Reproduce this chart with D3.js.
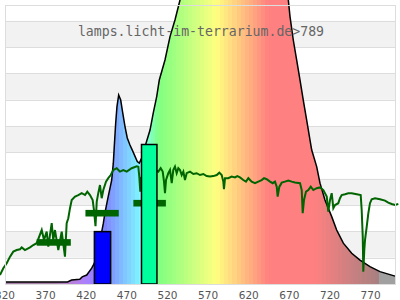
<!DOCTYPE html>
<html>
<head>
<meta charset="utf-8">
<script src="https://cdn.jsdelivr.net/npm/d3@7"></script>
<style>
  body { margin: 0; background: #fff; }
  svg { display: block; }
</style>
</head>
<body>
<div id="chart"></div>
<script>
const width = 400;
const height = 300;
const plotLeft = 5, plotRight = 395, plotTop = 5, plotBottom = 284;

const title = "lamps.licht-im-terrarium.de>789";
const xTicks = [320, 370, 420, 470, 520, 570, 620, 670, 720, 770];
const gridValues = [0, 10, 20, 30, 40, 50, 60, 70, 80, 90, 100];
const shadedBands = [[10, 20], [30, 40], [50, 60], [70, 80], [90, 100]];

// lamp spectrum [nm, relative value] (peak runs off the top)
const lampSpectrum = [
  [320, 0.8], [397, 0.8], [402, 1.5], [412, 1.8], [415, 2.7], [420.6, 3.4],
  [426.7, 6.0], [430, 7.9], [439, 19.8], [441, 23], [443, 27], [447, 33.2],
  [451.3, 39.5], [453.3, 45.9], [454.5, 52.2], [456.2, 61], [457.8, 67.4],
  [459.9, 71.8], [462.4, 69.9], [464.9, 65], [467.7, 59.8], [470.5, 55.5],
  [473.8, 52.8], [477.5, 50.3], [482.8, 46.5], [485.3, 45.9], [488.2, 47.8],
  [494.4, 54.3], [498.5, 58.5], [502.5, 65], [506.7, 71.2], [509.9, 77.5],
  [516.9, 85.1], [523.1, 94], [529.2, 100.3], [535.4, 107.9], [545, 118],
  [580, 138], [610, 142], [640, 130], [660, 114], [668.7, 107.9],
  [670.8, 101.6], [674.8, 92.7], [679, 85.1], [683.1, 77.5], [687.1, 69.9],
  [691.3, 62.3], [695.4, 54.7], [697.5, 50.9], [703.6, 44.6], [707.7, 38.3],
  [713.8, 31.9], [722.1, 25.6], [728.2, 20.5], [736.4, 15.5], [746.7, 11.7],
  [756.9, 9.1], [769.2, 6.6], [781.5, 4.7], [800, 3.0]
];

// reference daylight curve [nm, relative value]
const daylight = [
  [313.8, 3.4], [317.9, 6.0], [322.1, 7.9], [326.2, 10.4], [330.2, 12.3],
  [334.4, 12.9], [338.5, 13.2], [340.6, 13.9], [344.6, 12.9], [350.8, 13.9],
  [354.8, 14.8], [359, 15.5], [365.2, 20.5], [368, 16.7], [371.3, 19.9],
  [373.3, 14.2], [377.5, 23.1], [379.4, 16.7], [381.5, 20.5], [385.6, 12.9],
  [389.8, 19.9], [393.8, 10.4], [395.9, 23.1], [397.9, 25.0], [400, 28.8],
  [402.1, 31.9], [406.2, 33.2], [410.2, 33.8], [414.4, 34.5], [418.5, 33.8],
  [421.3, 35.1], [424.6, 33.8], [427.9, 31.9], [429.5, 28.1], [431.4, 22.0],
  [432.9, 31.3], [434.8, 34.5], [436.9, 37.6], [439, 32.6], [441, 35.7],
  [444.3, 38.9], [447.1, 40.2], [450.1, 41.4], [453.3, 43.3], [457.5, 44.0],
  [461.5, 42.7], [465.6, 43.3], [469.8, 42.7], [475.9, 44.0], [482.1, 44.7],
  [484.1, 44.5], [485.3, 40.8], [486.5, 35.1], [487.4, 40.3], [498.5, 43.3],
  [507.4, 42.9], [508.7, 42.7], [511.6, 44.0], [514.1, 42.7], [515.7, 38.9],
  [516.9, 34.5], [518.2, 39.5], [521, 42.1], [523.1, 43.3], [525.2, 38.3],
  [527.1, 43.3], [529.2, 44.6], [531.3, 42.1], [533.3, 44.0], [535.4, 43.3],
  [537.5, 41.4], [539.5, 42.7], [541.5, 39.5], [543.6, 42.1], [547.7, 42.7],
  [551.8, 41.8], [555.9, 42.1], [560, 41.4], [564.1, 41.8], [568.2, 41.0],
  [572.3, 40.8], [576.4, 41.0], [580.6, 41.4], [583.8, 42.3], [586.7, 41.4],
  [588.7, 38.9], [589.5, 36.0], [590.8, 40.2], [594.8, 40.2], [599, 40.8],
  [603.1, 40.5], [605.9, 41.0], [609.2, 40.5], [613.3, 39.5], [616.6, 38.9],
  [619.5, 40.2], [623.6, 38.9], [627.7, 38.3], [631.8, 38.9], [635.9, 39.5],
  [638.8, 40.2], [642.1, 39.8], [646.2, 38.9], [649.5, 38.3], [652.3, 38.9],
  [654.4, 37.0], [655.6, 33.2], [657.6, 36.9], [660.6, 38.5], [664.6, 38.9],
  [668.7, 39.3], [672.9, 38.9], [676.9, 38.6], [683.1, 38.3], [685.2, 35.7],
  [686.4, 26.9], [688, 31.9], [690.5, 35.1], [693.3, 35.7], [696.3, 37.0],
  [699.5, 35.7], [703.6, 36.4], [707.7, 36.7], [711.8, 35.7], [716, 33.2],
  [717.9, 27.5], [720, 31.9], [722.1, 34.5], [724.1, 28.8], [726.2, 30.0],
  [730.2, 30.7], [732.3, 32.6], [734.4, 33.8], [738.5, 34.1], [742.5, 34.5],
  [746.7, 34.5], [752.9, 34.1], [757.8, 33.8], [759, 28.1], [760.3, 18.0],
  [761, 4.7], [762.2, 12.9], [763.1, 16.7], [765.2, 21.8], [767.2, 26.9],
  [769.2, 30.7], [771.3, 32.2], [775.4, 32.6], [781.5, 32.2], [787.7, 31.7],
  [791.7, 30.9], [795.9, 30.4], [800, 30.0], [804.1, 30.4]
];

// averaged ranges (dark green dashes)
const rangeFrom = [359, 419, 478];
const rangeTo = [401, 460, 518];
const rangeValue = [15.8, 26.9, 30.7];

// colour boxes
const boxFrom = [430, 488];
const boxTo = [450, 507];
const boxValue = [19.9, 53];
const boxColors = ["#0000ff", "#00ff9c"];

const x = d3.scaleLinear().domain([320, 800]).range([plotLeft, plotRight]);
const y = d3.scaleLinear().domain([0, 106]).range([plotBottom, plotTop]);

const svg = d3.select("#chart").append("svg")
  .attr("width", width).attr("height", height);

// wavelength -> pale colour
function waveColor(w) {
  if (w >= 780) return "#a0a0a0";
  let r = 0, g = 0, b = 0, f = 1;
  if (w < 380) { r = 1; b = 1; f = 0.3; }
  else if (w < 440) { r = (440 - w) / 60; b = 1; if (w < 420) f = 0.3 + 0.7 * (w - 380) / 40; }
  else if (w < 490) { g = (w - 440) / 50; b = 1; }
  else if (w < 510) { g = 1; b = (510 - w) / 20; }
  else if (w < 580) { r = (w - 510) / 70; g = 1; }
  else if (w < 645) { r = 1; g = (645 - w) / 65; }
  else { r = 1; if (w > 700) f = 0.3 + 0.7 * (780 - w) / 80; }
  const mix = v => Math.round(255 * (0.5 + 0.5 * v * f));
  return d3.rgb(mix(r), mix(g), mix(b)).formatHex();
}

const grad = svg.append("defs").append("linearGradient")
  .attr("id", "spec")
  .attr("gradientUnits", "userSpaceOnUse")
  .attr("x1", x(320)).attr("x2", x(800)).attr("y1", 0).attr("y2", 0);
for (let w = 320; w < 800; w += 5) {
  const c = waveColor(w + 2.5);
  grad.append("stop").attr("offset", (w - 320) / 480).attr("stop-color", c);
  grad.append("stop").attr("offset", (w + 5 - 320) / 480).attr("stop-color", c);
}

// background bands and grid
svg.selectAll(".band").data(shadedBands).enter().append("rect")
  .attr("x", plotLeft).attr("width", plotRight - plotLeft)
  .attr("y", d => y(d[1])).attr("height", d => y(d[0]) - y(d[1]))
  .attr("fill", "#f2f2f2");

svg.selectAll(".grid").data(gridValues).enter().append("line")
  .attr("x1", plotLeft).attr("x2", plotRight)
  .attr("y1", d => Math.round(y(d)) + 0.5).attr("y2", d => Math.round(y(d)) + 0.5)
  .attr("stroke", "#dddddd");

// lamp spectrum
svg.append("path").datum(lampSpectrum)
  .attr("d", d3.area().x(d => x(d[0])).y0(y(0)).y1(d => y(d[1])))
  .attr("fill", "url(#spec)");
svg.append("path").datum(lampSpectrum)
  .attr("d", d3.line().x(d => x(d[0])).y(d => y(d[1])))
  .attr("fill", "none").attr("stroke", "#000").attr("stroke-width", 1.5);

// daylight line
svg.append("path").datum(daylight)
  .attr("d", d3.line().x(d => x(d[0])).y(d => y(d[1])))
  .attr("fill", "none").attr("stroke", "#006400").attr("stroke-width", 2)
  .attr("stroke-linejoin", "miter");

// range averages
svg.selectAll(".range").data(rangeValue).enter().append("rect")
  .attr("x", (d, i) => x(rangeFrom[i]))
  .attr("width", (d, i) => x(rangeTo[i]) - x(rangeFrom[i]))
  .attr("y", d => y(d) - 3.3).attr("height", 6.6)
  .attr("fill", "#006400");

// colour boxes
svg.selectAll(".box").data(boxValue).enter().append("rect")
  .attr("x", (d, i) => x(boxFrom[i]))
  .attr("width", (d, i) => x(boxTo[i]) - x(boxFrom[i]))
  .attr("y", d => y(d)).attr("height", d => y(0) - y(d))
  .attr("fill", (d, i) => boxColors[i])
  .attr("stroke", "#000").attr("stroke-width", 1.5);

// frame
svg.append("rect")
  .attr("x", plotLeft + 0.5).attr("y", plotTop + 0.5)
  .attr("width", plotRight - plotLeft).attr("height", plotBottom - plotTop)
  .attr("fill", "none").attr("stroke", "#dddddd");

// x labels
svg.selectAll(".tick").data(xTicks).enter().append("text")
  .attr("x", d => x(d)).attr("y", 299)
  .attr("text-anchor", "middle")
  .attr("font-family", "DejaVu Sans, sans-serif").attr("font-size", "10.5px")
  .attr("fill", "#555")
  .text(d => d);

// title
svg.append("text")
  .attr("x", 201).attr("y", 36)
  .attr("text-anchor", "middle")
  .attr("font-family", "DejaVu Sans Mono, monospace").attr("font-size", "13.2px")
  .attr("fill", "#666")
  .text(title);
</script>
</body>
</html>
